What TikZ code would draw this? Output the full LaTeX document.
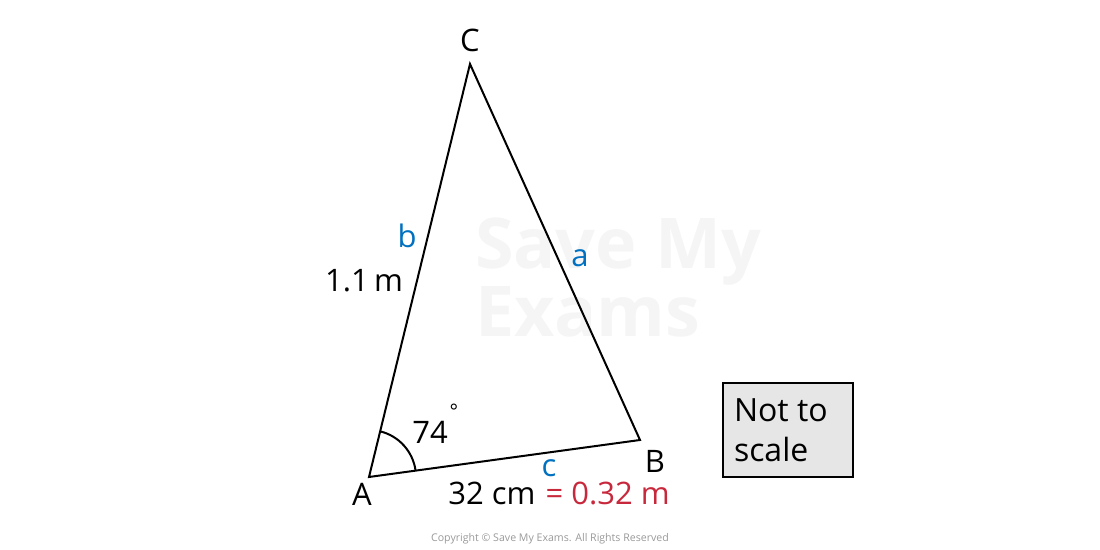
\documentclass[tikz,border=0pt]{standalone}
\usepackage{fontspec}
\setmainfont{Open Sans}
\usetikzlibrary{positioning}
\definecolor{sidecol}{HTML}{0070C0}
\definecolor{convcol}{HTML}{C8283C}
\definecolor{boxfill}{HTML}{E6E6E6}
\begin{document}
\begin{tikzpicture}[x=0.5pt,y=-0.5pt,line width=1pt,
		inner sep=0pt,node distance=2pt]
		\tikzstyle{txt}=[font=\fontsize{15.5}{19}\selectfont]
		\tikzstyle{side}=[txt,text=sidecol]
		\tikzstyle{wmark}=[font=\fontsize{35}{35}\selectfont\bfseries,text=black!4]
		\useasboundingbox (0,0) rectangle (1100,550);
		
		% watermark
		\node[wmark,anchor=west] (wm1) at (474,252) {Save My};
		\node[wmark,anchor=west] (wm2) at (474,312) {Exams};
		
		\coordinate (A) at (369,477);
		\coordinate (B) at (640,440);
		\coordinate (C) at (470,64);
		\draw (A) -- (B) -- (C) -- cycle;
		\draw ([shift={(-7.8:47)}]A) arc[start angle=-7.8,end angle=-76.3,radius=47];
		
		\node[txt] (lA) at (362,494) {A};
		\node[txt] (lB) at (655,461) {B};
		\node[txt] (lC) at (470,40) {C};
		
		\node[side] (sb) at (407,236) {b};
		\node[side] (sa) at (580,258) {a};
		\node[side] (sc) at (549,468) {c};
		
		\node[txt] (len) at (364,281) {1.1\,m};
		\node[txt] (ang) at (430,432) {74};
		\node[font=\fontsize{10}{10}\selectfont,anchor=south west] (deg) at (ang.north east) {°};
		
		\node[txt] (cm) at (492,493) {32 cm};
		\node[txt,text=convcol,right=4pt of cm] (m) {= 0.32 m};
		
		\node[draw,fill=boxfill,line width=0.7pt,minimum width=65pt,minimum height=47pt] (box) at (788,430) {};
		\node[txt,align=left,anchor=west,font=\fontsize{16}{20}\selectfont] (nts) at (733,430) {Not to\\scale};
		
		\node[font=\fontsize{5.3}{7}\selectfont,text=black!40] (copy) at (550,539) {Copyright © Save My Exams. All Rights Reserved};
		\end{tikzpicture}
\end{document}
